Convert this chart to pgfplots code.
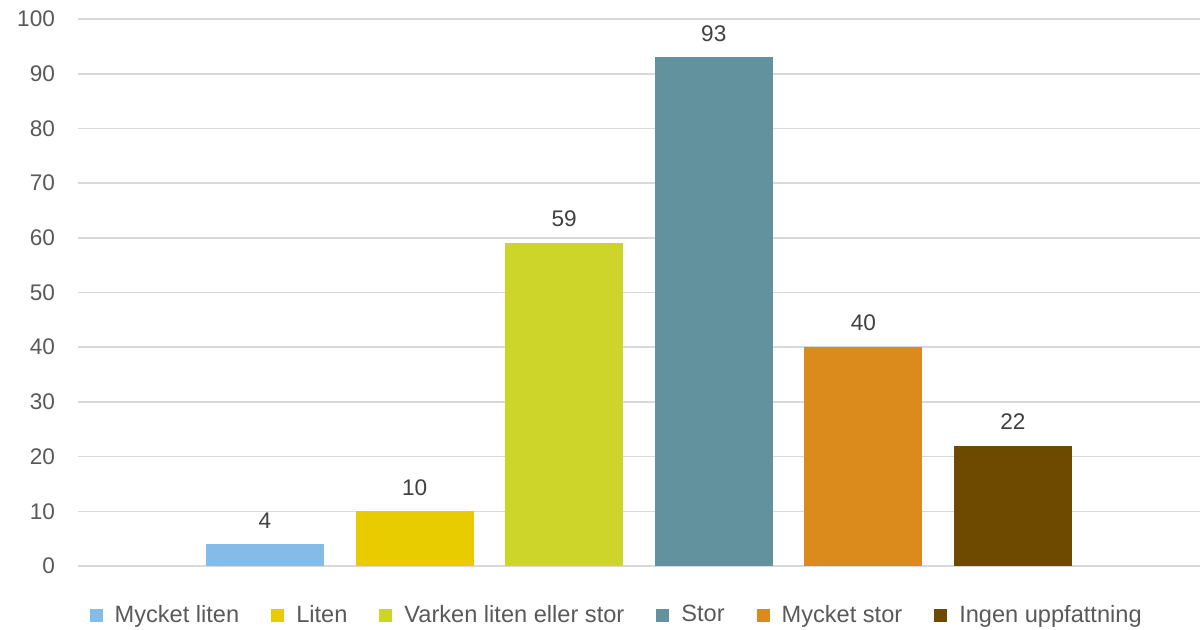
\documentclass[border=0pt]{standalone}
\usepackage{pgfplots}
\pgfplotsset{compat=1.18}
\usepackage{fontspec}
\setmainfont{Liberation Sans}
\definecolor{c1}{HTML}{85BBE8}
\definecolor{c2}{HTML}{E8CC00}
\definecolor{c3}{HTML}{CDD52A}
\definecolor{c4}{HTML}{62929E}
\definecolor{c5}{HTML}{DB8B1B}
\definecolor{c6}{HTML}{6E4A00}
\definecolor{gridc}{HTML}{D9D9D9}
\definecolor{tickc}{HTML}{595959}
\definecolor{labc}{HTML}{404040}
\begin{document}
\begin{tikzpicture}
\useasboundingbox (-39pt,-31.5pt) rectangle (563pt,283pt);
\begin{axis}[
  at={(0,0)}, anchor=south west,
  scale only axis, width=561pt, height=273.5pt,
  xmin=-0.25, xmax=7.25, ymin=0, ymax=100,
  ytick={0,10,...,100},
  xtick=\empty,
  axis x line*=bottom, axis y line*=left,
  x axis line style={draw=gridc, line width=0.8pt},
  y axis line style={draw=none},
  ymajorgrids, grid style={draw=gridc, line width=0.8pt},
  major tick length=0pt,
  yticklabel style={font=\fontsize{11.3}{13}\selectfont, text=tickc, xshift=-8pt},
  /pgf/number format/assume math mode=true,
  ybar, bar width=59pt, bar shift=0pt,
  nodes near coords,
  every node near coord/.append style={font=\fontsize{11.3}{13}\selectfont, text=labc, yshift=4.5pt},
  legend style={at={(0.481,-0.0896)}, anchor=center, draw=none, fill=none,
    legend columns=6, font=\fontsize{11.8}{13}\selectfont, text=tickc,
    /tikz/every odd column/.append style={column sep=4pt},
    /tikz/every even column/.append style={column sep=14pt}},
  legend image code/.code={\fill[#1] (0pt,-3.25pt) rectangle (6.5pt,3.25pt);},
]
\addplot[fill=c1, draw=none] coordinates {(1,4)};
\addlegendentry{Mycket liten}
\addplot[fill=c2, draw=none] coordinates {(2,10)};
\addlegendentry{Liten}
\addplot[fill=c3, draw=none] coordinates {(3,59)};
\addlegendentry{Varken liten eller stor}
\addplot[fill=c4, draw=none] coordinates {(4,93)};
\addlegendentry{Stor}
\addplot[fill=c5, draw=none] coordinates {(5,40)};
\addlegendentry{Mycket stor}
\addplot[fill=c6, draw=none] coordinates {(6,22)};
\addlegendentry{Ingen uppfattning}
\end{axis}
\end{tikzpicture}
\end{document}
